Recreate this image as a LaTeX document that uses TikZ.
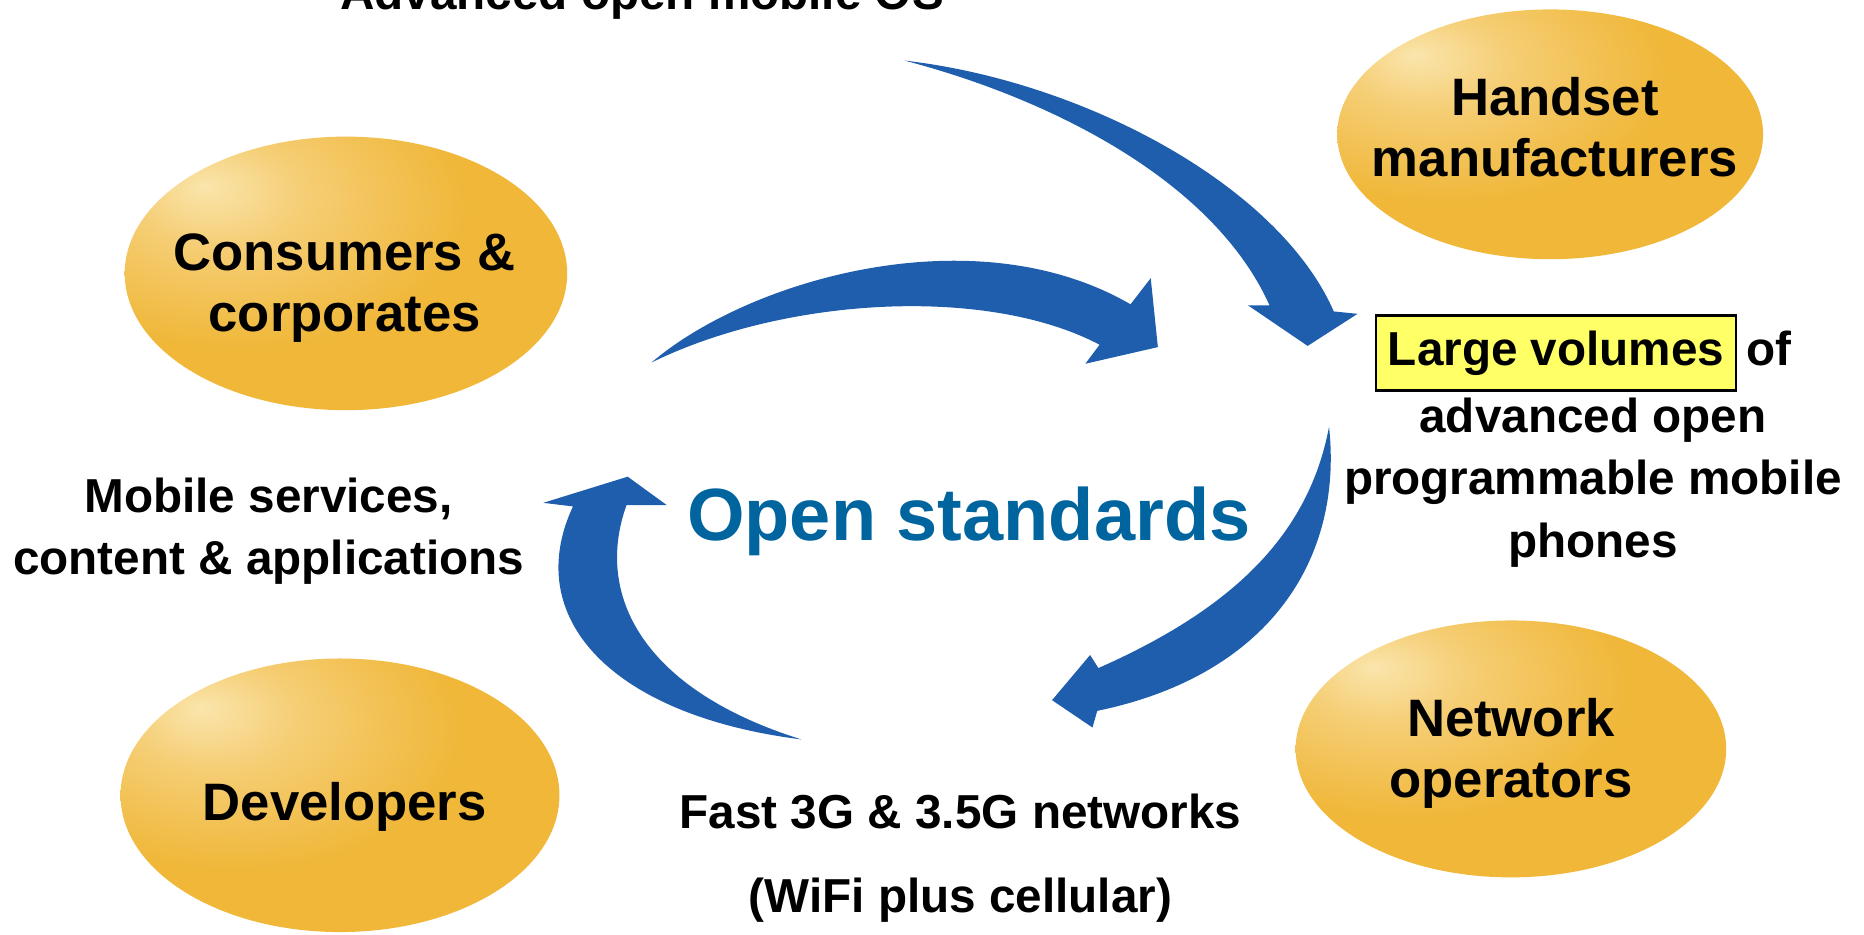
\documentclass[tikz,border=0pt]{standalone}
\usepackage{fontspec}
\setmainfont{Liberation Sans}
\usetikzlibrary{shapes.geometric,positioning}

\definecolor{arrowblue}{RGB}{30,94,172}
\definecolor{stdblue}{RGB}{0,101,158}
\definecolor{goldhi}{RGB}{250,229,172}
\definecolor{goldlt}{RGB}{245,205,115}
\definecolor{goldmid}{RGB}{240,183,56}
\definecolor{golddark}{RGB}{168,118,30}
\definecolor{boxyellow}{RGB}{255,255,102}

\pgfdeclareradialshading{goldball}{\pgfpoint{-16bp}{16bp}}{%
  color(0bp)=(goldhi); color(10bp)=(goldlt); color(26bp)=(goldmid);
  color(54bp)=(goldmid); color(72bp)=(golddark); color(100bp)=(golddark)}

\tikzset{
  blob/.style={ellipse, shading=goldball, draw=none, inner sep=0pt},
  blobtext/.style={font=\fontsize{12.6}{14.6}\selectfont\bfseries, align=center, inner sep=0pt},
  lbl/.style={font=\fontsize{11.4}{14.9}\selectfont\bfseries, align=center, inner sep=0pt},
}

\begin{document}
\begin{tikzpicture}[x=0.01cm, y=-0.01cm]
  \useasboundingbox (0,0) rectangle (1568,786);

  % Gold ovals
  \node[blob, minimum width=3.72cm, minimum height=2.30cm] (cons) at (291,230) {};
  \node[blob, minimum width=3.58cm, minimum height=2.10cm] (hand) at (1304,113) {};
  \node[blob, minimum width=3.62cm, minimum height=2.16cm] (netw) at (1271,630) {};
  \node[blob, minimum width=3.69cm, minimum height=2.30cm] (dev) at (286,669) {};

  \node[blobtext] (consT) at (290,242) {Consumers \&\\corporates};
  \node[blobtext] (handT) at (1308,107) {Handset\\manufacturers};
  \node[blobtext] (netwT) at (1271,634) {Network\\operators};
  \node[blobtext] (devT) at (290,679) {Developers};

  % Labels
  \node[lbl, anchor=base] (os) at (540,8) {Advanced open mobile OS};
  \node[lbl] (serv) at (226,447) {Mobile services,\\content \& applications};
  \node[lbl] (fast) at (808,683) {Fast 3G \& 3.5G networks};
  \node[lbl] (wifi) at (808,757) {(WiFi plus cellular)};

  \node[lbl, draw=black, line width=0.6pt, fill=boxyellow, inner xsep=2.8pt, inner ysep=3.6pt] (lv) at (1309,297) {Large volumes};
  \node[lbl, anchor=base west] (of) at ([xshift=2pt]lv.base east) {of};
  \node[lbl] (phones) at (1340,406) {advanced open\\programmable mobile\\phones};

  % Centre
  \node[font=\fontsize{17.7}{20}\selectfont\bfseries, text=stdblue, inner sep=0pt] (open) at (815,439) {Open standards};

  % Arrow from the OS down to the handsets
  \fill[arrowblue] (761,51) .. controls (910,68) and (1075,155) .. (1122,262)
    -- (1142,264) -- (1100,291) -- (1050,257) -- (1068,257)
    .. controls (1020,150) and (880,82) .. (761,51) -- cycle;

  % Arrow from consumers to the right
  \fill[arrowblue] (548,305) .. controls (630,235) and (820,180) .. (951,256)
    -- (968,234) -- (974,292) -- (913,306) -- (925,290)
    .. controls (830,240) and (660,250) .. (548,305) -- cycle;

  % Arrow from the phones down to the networks
  \fill[arrowblue] (1118,359) .. controls (1130,470) and (1068,568) .. (923,598)
    -- (919,612) -- (885,589) -- (917,551) -- (924,562)
    .. controls (1030,515) and (1100,455) .. (1118,359) -- cycle;

  % Arrow from the networks up to the services
  \fill[arrowblue] (674,622) .. controls (515,602) and (438,520) .. (482,426)
    -- (457,423) -- (528,401) -- (561,425) -- (527,425)
    .. controls (500,500) and (540,580) .. (674,622) -- cycle;
\end{tikzpicture}
\end{document}
